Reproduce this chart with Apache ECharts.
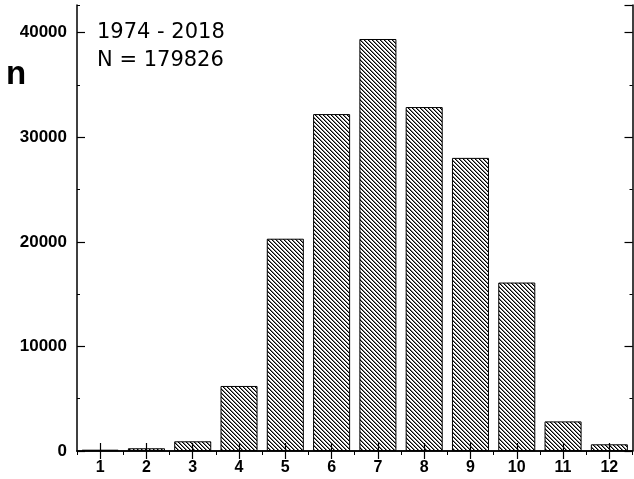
<!DOCTYPE html>
<html>
<head>
<meta charset="utf-8">
<script src="https://cdn.jsdelivr.net/npm/echarts@6/dist/echarts.min.js"></script>
<style>html,body{margin:0;padding:0;background:#fff}#c{width:634px;height:479px}</style>
</head>
<body>
<div id="c"></div>
<script>
const categories = ['1','2','3','4','5','6','7','8','9','10','11','12'];
const counts = [125, 260, 925, 6220, 20300, 32220, 39400, 32890, 28030, 16110, 2830, 640];
const yTickLabels = ['0','10000','20000','30000','40000'];
const titleLines = ['1974 - 2018', 'N = 179826'];
const yName = 'n';

function hatch() {
  const s = 4;
  const c = document.createElement('canvas');
  c.width = s; c.height = s;
  const g = c.getContext('2d');
  g.fillStyle = '#fff'; g.fillRect(0, 0, s, s);
  for (let i = 0; i < s; i++) {
    g.fillStyle = '#000'; g.fillRect(i, i, 1, 1);
    g.fillStyle = '#808080'; g.fillRect((i + 1) % s, i, 1, 1);
  }
  return c;
}

const chart = echarts.init(document.getElementById('c'), null, {renderer: 'canvas'});
const lineStyle = {color: '#000', width: 1.5};
const YMAX = 42650;
const baseX = {type: 'category', data: categories, boundaryGap: true, z: 10, axisLabel: {show: false}, splitLine: {show: false}};
const baseY = {type: 'value', min: 0, max: YMAX, z: 10, splitLine: {show: false}, axisLabel: {show: false}};
chart.setOption({
  animation: false,
  backgroundColor: '#fff',
  grid: {left: 77, right: 1.5, top: 5, bottom: 28, containLabel: false},
  xAxis: [
    Object.assign({}, baseX, {position: 'bottom', axisLine: {show: true, lineStyle},
      axisTick: {show: true, inside: true, alignWithLabel: true, length: 8, lineStyle: {color: '#000', width: 1.2}},
      axisLabel: {show: true, margin: 9, color: '#000', fontFamily: 'Liberation Sans', fontWeight: 'bold', fontSize: 16}}),
    Object.assign({}, baseX, {position: 'top', axisLine: {show: true, lineStyle},
      axisTick: {show: true, inside: true, alignWithLabel: true, length: 8, lineStyle: {color: '#000', width: 1.2}}}),
    Object.assign({}, baseX, {position: 'top', axisLine: {show: false},
      axisTick: {show: true, inside: true, alignWithLabel: false, length: 4, lineStyle: {color: '#000', width: 1}}})
  ],
  yAxis: [
    Object.assign({}, baseY, {position: 'left', interval: 10000, axisLine: {show: true, lineStyle},
      axisTick: {show: true, inside: true, length: 8, lineStyle: {color: '#000', width: 1.2}},
      axisLabel: {show: true, showMaxLabel: false, margin: 10, color: '#000', fontFamily: 'Liberation Sans', fontWeight: 'bold', fontSize: 17,
        formatter: v => yTickLabels[Math.round(v / 10000)] || ''}}),
    Object.assign({}, baseY, {position: 'left', interval: 5000, axisLine: {show: false},
      axisTick: {show: true, inside: true, length: 3, lineStyle: {color: '#000', width: 1}}}),
    Object.assign({}, baseY, {position: 'right', interval: 10000, axisLine: {show: true, lineStyle},
      axisTick: {show: true, inside: true, length: 8, lineStyle: {color: '#000', width: 1.2}}}),
    Object.assign({}, baseY, {position: 'right', interval: 5000, axisLine: {show: false},
      axisTick: {show: true, inside: true, length: 3, lineStyle: {color: '#000', width: 1}}})
  ],
  series: [{
    type: 'bar', data: counts, xAxisIndex: 0, yAxisIndex: 0,
    barCategoryGap: '20%',
    itemStyle: {color: {image: hatch(), repeat: 'repeat'}, borderColor: '#000', borderWidth: 1}
  }],
  graphic: [
    {type: 'text', left: 97, top: 22, style: {text: titleLines[0], font: '21px "DejaVu Sans"', fill: '#000'}},
    {type: 'text', left: 97, top: 50, style: {text: titleLines[1], font: '21px "DejaVu Sans"', fill: '#000'}},
    {type: 'text', left: 6, top: 58, style: {text: yName, font: 'bold 33px "Liberation Sans"', fill: '#000'}}
  ]
});
</script>
</body>
</html>
